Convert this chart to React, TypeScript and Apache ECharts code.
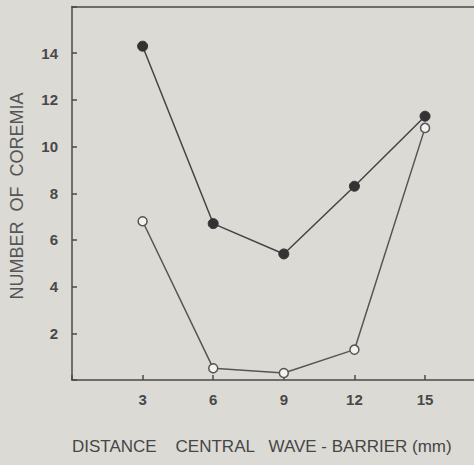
import React, { useEffect, useRef } from "react";
import * as echarts from "echarts";

const distances = [3, 6, 9, 12, 15];
const xTickLabels = ["3", "6", "9", "12", "15"];
const yTickLabels = ["2", "4", "6", "8", "10", "12", "14"];
const filledSeries = [14.3, 6.7, 5.4, 8.3, 11.3];
const openSeries = [6.8, 0.5, 0.3, 1.3, 10.8];

const xTitle = "DISTANCE    CENTRAL   WAVE - BARRIER (mm)";
const yTitle = "NUMBER  OF  COREMIA";

export default function App() {
  const ref = useRef<HTMLDivElement>(null);
  useEffect(() => {
    document.body.style.margin = "0";
    if (!ref.current) return;
    const chart = echarts.init(ref.current, undefined, { renderer: "svg" });
    const axisColor = "#4a4a4a";
    const labelStyle = {
      color: "#484848",
      fontFamily: "Liberation Sans, Arial, sans-serif",
      fontWeight: "bold" as const,
      fontSize: 15,
    };
    chart.setOption({
      animation: false,
      backgroundColor: "#dcdad5",
      grid: {
        left: 72,
        top: 6.5,
        bottom: 85,
        right: 0,
        show: false,
      },
      xAxis: [
        {
          type: "value",
          min: 0,
          max: 17.08,
          interval: 3,
          splitLine: { show: false },
          axisLine: { show: true, lineStyle: { color: axisColor, width: 1.5 } },
          axisTick: { show: true, inside: true, length: 5, lineStyle: { color: axisColor, width: 1.5 } },
          axisLabel: {
            ...labelStyle,
            margin: 12,
            showMaxLabel: false,
            formatter: (v: number) => (xTickLabels.includes(String(v)) ? String(v) : ""),
          },
        },
        {
          type: "value",
          position: "top",
          min: 0,
          max: 17.08,
          splitLine: { show: false },
          axisLine: { show: true, lineStyle: { color: axisColor, width: 1.5 } },
          axisTick: { show: false },
          axisLabel: { show: false },
        },
      ],
      yAxis: {
        type: "value",
        min: 0,
        max: 16,
        interval: 2,
        splitLine: { show: false },
        axisLine: { show: true, lineStyle: { color: axisColor, width: 1.5 } },
        axisTick: { show: true, inside: true, length: 5, lineStyle: { color: axisColor, width: 1.5 } },
        axisLabel: {
          ...labelStyle,
          margin: 14,
          formatter: (v: number) => (yTickLabels.includes(String(v)) ? String(v) : ""),
        },
      },
      series: [
        {
          type: "line",
          xAxisIndex: 0,
          data: distances.map((d, i) => [d, filledSeries[i]]),
          symbol: "circle",
          symbolSize: 10,
          lineStyle: { color: "#444", width: 1.5 },
          itemStyle: { color: "#333", borderColor: "#333", borderWidth: 1 },
          z: 3,
        },
        {
          type: "line",
          xAxisIndex: 0,
          data: distances.map((d, i) => [d, openSeries[i]]),
          symbol: "circle",
          symbolSize: 9,
          lineStyle: { color: "#555", width: 1.5 },
          itemStyle: { color: "#f2f2f0", borderColor: "#555", borderWidth: 1.5 },
          z: 2,
        },
      ],
      graphic: [
        {
          type: "text",
          left: 72,
          top: 438,
          style: {
            text: xTitle,
            fill: "#464646",
            fontFamily: "Liberation Sans, Arial, sans-serif",
            fontSize: 17,
          },
        },
        {
          type: "text",
          x: 17,
          y: 196,
          rotation: Math.PI / 2,
          style: {
            text: yTitle,
            fill: "#555",
            fontFamily: "Liberation Sans, Arial, sans-serif",
            fontSize: 18,
            align: "center",
            verticalAlign: "middle",
          },
        },
      ],
    });
    return () => chart.dispose();
  }, []);
  return <div ref={ref} style={{ width: 474, height: 465 }} />;
}
